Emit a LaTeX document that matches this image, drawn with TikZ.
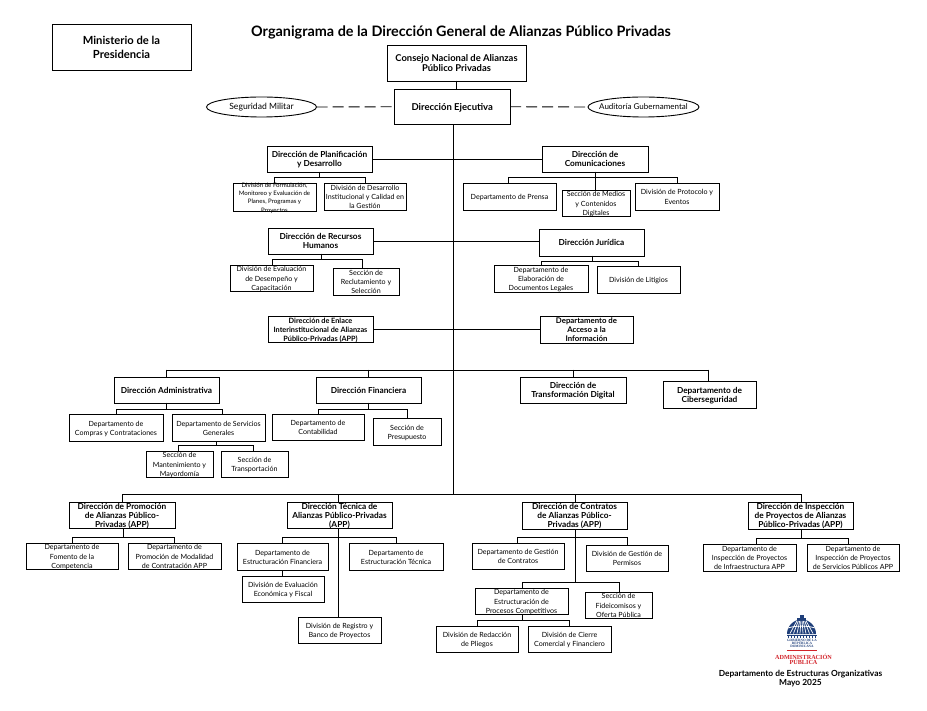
\documentclass[tikz,border=0pt]{standalone}
\usepackage{fontspec}
\setmainfont{Lato}
\newfontfamily\logofont{Liberation Serif}
\usetikzlibrary{shapes.geometric}
\definecolor{logoblue}{HTML}{1F3F7A}
\definecolor{logored}{HTML}{D2232A}
\newcommand{\bxt}[1]{\smash{\raisebox{-0.42em}{\begin{tabular}{@{}c@{}}#1\end{tabular}}}}
\tikzset{
  boxbase/.style={draw=black,fill=white,line width=0.9pt,inner sep=0pt,outer sep=0pt,rectangle},
  boxn/.style={boxbase,font=\fontsize{7.1}{9.1}\selectfont},
  boxb/.style={boxbase,font=\fontsize{8.3}{9.1}\selectfont\bfseries},
  boxt/.style={boxbase,font=\fontsize{6.1}{8.2}\selectfont},
  conn/.style={draw=black,line width=0.9pt,line cap=rect},
  ell/.style={draw=black,fill=white,line width=0.9pt,ellipse,inner sep=0pt,outer sep=0pt,font=\fontsize{8}{10}\selectfont},
  txtb/.style={inner sep=0pt,font=\bfseries}
}
\newcommand{\bx}[6][boxn]{}
\renewcommand{\bx}[7][boxn]{%
  \node[#1,minimum width={(#5-#3)*1pt},minimum height={(#6-#4)*1pt}] (#2) at ({(#3+#5)/2},{(#4+#6)/2}) {\bxt{#7}};}
\newcommand{\bus}[4]{%
  \draw[conn] (#2,0 |- #1.south) -- (#2,#3);
  \foreach \cn/\cx [count=\ci] in {#4}{%
    \draw[conn] (#2,#3) -- (\cx,#3) -- (\cx,0 |- \cn.north);}}
\begin{document}
\begin{tikzpicture}[x=1pt,y=-1pt]
\useasboundingbox (0,0) rectangle (927,711);
% title
\node[txtb,font=\fontsize{14.4}{16}\selectfont\bfseries] (title) at (461,32.2) {Organigrama de la Dirección General de Alianzas Público Privadas};
\bx[boxb,font=\fontsize{11.2}{13.5}\selectfont\bfseries]{mini}{52}{24}{191}{70}{Ministerio de la\\Presidencia}
\bx[boxb,font=\fontsize{9.4}{9.8}\selectfont\bfseries]{cons}{387}{45}{526}{81}{Consejo Nacional de Alianzas\\Público Privadas}
\bx[boxb,font=\fontsize{9.5}{11}\selectfont\bfseries]{ejec}{394.5}{89}{510}{124.5}{Dirección Ejecutiva}
\node[ell,minimum width=110pt,minimum height=20pt] (segu) at (261.5,107) {\makebox[0pt]{\raisebox{-1pt}{\fontsize{8.6}{10}\selectfont Seguridad Militar}}};
\node[ell,minimum width=111pt,minimum height=20pt] (audi) at (643.5,107) {\makebox[0pt]{\raisebox{-1pt}{Auditoría Gubernamental}}};
% row 1
\bx[boxb]{plan}{267}{146}{372}{172}{Dirección de Planificación\\y Desarrollo}
\bx[boxb]{comu}{542}{146}{648}{172}{Dirección de\\Comunicaciones}
\bx[boxt]{form}{233}{183}{316}{211}{División de Formulación,\\Monitoreo y Evaluación de\\Planes, Programas y\\Proyectos}
\bx{desa}{324}{183}{406}{210}{División de Desarrollo\\Institucional y Calidad en\\la Gestión}
\bx{pren}{463}{183}{556}{210}{Departamento de Prensa}
\bx{medi}{562}{190}{630}{216}{Sección de Medios\\y Contenidos\\Digitales}
\bx{prot}{635}{183}{719}{210}{División de Protocolo y\\Eventos}
% row 2
\bx[boxb]{rrhh}{268}{228}{373}{254}{Dirección de Recursos\\Humanos}
\bx[boxb]{juri}{539}{229}{644}{256}{Dirección Jurídica}
\bx{eval}{230}{265}{313}{291}{División de Evaluación\\de Desempeño y\\Capacitación}
\bx{recl}{333}{268}{399}{295}{Sección de\\Reclutamiento y\\Selección}
\bx{elab}{494}{265}{588}{292}{Departamento de\\Elaboración de\\Documentos Legales}
\bx{liti}{597}{266}{680}{293}{División de Litigios}
% row 3
\bx[boxb,font=\fontsize{7.3}{9.1}\selectfont\bfseries]{enla}{268}{316}{373}{342}{Dirección de Enlace\\Interinstitucional de Alianzas\\Público-Privadas (APP)}
\bx[boxb,font=\fontsize{7.8}{9.1}\selectfont\bfseries]{acce}{540}{316}{633}{343}{Departamento de\\Acceso a la\\Información}
% row 4
\bx[boxb]{admi}{114}{377}{219}{403}{Dirección Administrativa}
\bx[boxb]{fina}{316}{377}{421}{403}{Dirección Financiera}
\bx[boxb]{tran}{520}{377}{626}{403}{Dirección de\\Transformación Digital}
\bx[boxb]{cibe}{663}{381}{756}{408}{Departamento de\\Ciberseguridad}
\bx{comp}{69}{414}{163}{441}{Departamento de\\Compras y Contrataciones}
\bx{serv}{172}{414}{265}{441}{Departamento de Servicios\\Generales}
\bx{mant}{146}{451}{213}{477}{Sección de\\Mantenimiento y\\Mayordomía}
\bx{tras}{221}{451}{288}{477}{Sección de\\Transportación}
\bx{cont}{272}{414}{364}{440}{Departamento de\\Contabilidad}
\bx{pres}{373}{418}{441}{445}{Sección de\\Presupuesto}
% row 5
\bx[boxb]{prom}{69}{502}{175}{528}{Dirección de Promoción\\de Alianzas Público-\\Privadas (APP)}
\bx[boxb]{tecn}{287}{502}{392}{528}{Dirección Técnica de\\Alianzas Público-Privadas\\(APP)}
\bx[boxb]{cotr}{522}{502}{627}{529}{Dirección de Contratos\\de Alianzas Público-\\Privadas (APP)}
\bx[boxb]{insp}{748}{502}{853}{529}{Dirección de Inspección\\de Proyectos de Alianzas\\Público-Privadas (APP)}
\bx{fome}{26}{543}{118}{569}{Departamento de\\Fomento de la\\Competencia}
\bx{moda}{128}{543}{221}{569}{Departamento de\\Promoción de Modalidad\\de Contratación APP}
\bx{esfi}{237}{543}{328}{570}{Departamento de\\Estructuración Financiera}
\bx{este}{349}{543}{443}{570}{Departamento de\\Estructuración Técnica}
\bx{evec}{242}{576}{324}{602}{División de Evaluación\\Económica y Fiscal}
\bx{regi}{298}{617}{381}{643}{División de Registro y\\Banco de Proyectos}
\bx{gest}{472}{543}{564}{569}{Departamento de Gestión\\de Contratos}
\bx{perm}{586}{545}{668}{571}{División de Gestión de\\Permisos}
\bx{proc}{475}{588}{568}{614}{Departamento de\\Estructuración de\\Procesos Competitivos}
\bx{fide}{585}{592}{652}{618}{Sección de\\Fideicomisos y\\Oferta Pública}
\bx{reda}{436}{626}{518}{652}{División de Redacción\\de Pliegos}
\bx{cier}{528}{626}{611}{652}{División de Cierre\\Comercial y Financiero}
\bx{infr}{703}{544}{796}{571}{Departamento de\\Inspección de Proyectos\\de Infraestructura APP}
\bx{spub}{807}{544}{899}{571}{Departamento de\\Inspección de Proyectos\\de Servicios Públicos APP}
% connectors
\draw[conn] (cons) -- (cons |- ejec.north);
\draw[conn,line cap=butt,dash pattern=on 11pt off 5pt] (segu.east) -- (ejec.west);
\draw[conn,line cap=butt,dash pattern=on 11pt off 5pt] (ejec.east) -- (audi.west);
\coordinate (busa) at (453.5,370);
\coordinate (busb) at (453.5,494);
\draw[conn,line width=1.1pt] (453.5,0 |- ejec.south) -- (busb);
\draw[conn] (plan.east) -- (plan.east -| comu.west);
\draw[conn] (rrhh.east) -- (rrhh.east -| juri.west);
\draw[conn] (enla.east) -- (enla.east -| acce.west);
\bus{plan}{319}{177}{form/274,desa/365}
\bus{comu}{595.5}{177}{pren/508,medi/595.5,prot/677}
\bus{rrhh}{321}{259.5}{eval/272,recl/362}
\bus{juri}{592}{261}{elab/541,liti/638}
\draw[conn] (166,370) -- (708,370);
\foreach \cn/\cx in {admi/166,fina/368,tran/573,cibe/708}{\draw[conn] (\cx,370) -- (\cx,0 |- \cn.north);}
\bus{admi}{166}{409}{comp/116,serv/222}
\bus{serv}{216}{445}{mant/178,tras/253}
\bus{fina}{368}{409}{cont/318,pres/407}
\draw[conn] (122,494) -- (801,494);
\foreach \cn/\cx in {prom/122,tecn/338,cotr/575,insp/801}{\draw[conn] (\cx,494) -- (\cx,0 |- \cn.north);}
\bus{prom}{123}{537}{fome/72,moda/174}
\bus{tecn}{338}{537}{esfi/282,este/396}
\draw[conn] (338,0 |- tecn.south) -- (338,0 |- regi.north);
\draw[conn] (282,0 |- esfi.south) -- (282,0 |- evec.north);
\bus{cotr}{575}{537}{gest/517,perm/627}
\bus{cotr}{575}{582}{proc/522,fide/619}
\bus{proc}{522}{620}{reda/477,cier/569}
\bus{insp}{801}{538}{infr/756,spub/848}
% logo
\fill[logoblue] (787,634) arc[start angle=180,end angle=360,x radius=14.5,y radius=14.5] -- cycle;
\foreach \ra in {-11.5,-8,-4.5,-1.5,1.5,4.5,8,11.5}{\draw[white,line width=0.7pt] (801.5+\ra,633.5) -- (801.5+\ra*0.4,621);}
\draw[white,line width=0.8pt] (788,628) .. controls (795,625.5) and (808,625.5) .. (815,628);
\fill[logoblue] (797,620) rectangle (806,617.5);
\fill[logoblue] (799.5,617.5) rectangle (803.5,615);
\fill[logoblue] (786.5,635) rectangle (816.5,636.2);
\foreach \ra in {787.5,790.5,793.5,796.5,799.5,802.5,805.5,808.5,811.5,814.5}{\fill[logoblue] (\ra,636.2) rectangle (\ra+1.6,638);}
\node[inner sep=0pt,align=center,text=logoblue,font=\logofont\bfseries\fontsize{3.4}{3.2}\selectfont] (lgob) at (802,643.6) {GOBIERNO DE LA\\REPÚBLICA\\DOMINICANA};
\fill[logored] (787,650.4) rectangle (817,651.3);
\node[inner sep=0pt,align=center,text=logored,font=\logofont\bfseries\fontsize{6.2}{5.6}\selectfont] (ladm) at (803.5,659.5) {ADMINISTRACIÓN\\PÚBLICA};
\node[txtb,align=center,font=\fontsize{8.4}{9}\selectfont\bfseries] (foot) at (800.5,678.3) {Departamento de Estructuras Organizativas\\Mayo 2025};
\end{tikzpicture}
\end{document}
